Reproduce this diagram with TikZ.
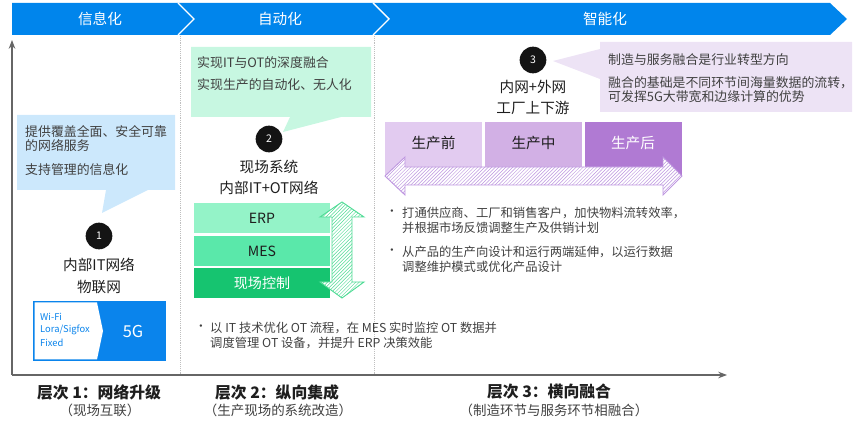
\documentclass[tikz,border=0pt]{standalone}
\usepackage{fontspec}
\setmainfont{Noto Sans CJK SC}
\usetikzlibrary{arrows.meta,patterns}
\definecolor{bannerblue}{RGB}{0,133,236}
\definecolor{textgray}{RGB}{64,64,64}
\definecolor{textdark}{RGB}{30,30,30}
\definecolor{callblue}{RGB}{204,232,252}
\definecolor{callgreen}{RGB}{199,247,225}
\definecolor{callpurple}{RGB}{237,227,245}
\definecolor{erpgreen}{RGB}{148,243,200}
\definecolor{mesgreen}{RGB}{90,232,170}
\definecolor{ctrlgreen}{RGB}{22,196,112}
\definecolor{hatchgreen}{RGB}{80,220,150}
\definecolor{prepurple}{RGB}{226,203,240}
\definecolor{midpurple}{RGB}{210,176,229}
\definecolor{postpurple}{RGB}{176,122,211}
\definecolor{hatchpurple}{RGB}{190,150,224}
\definecolor{fivegblue}{RGB}{10,132,236}
\newcommand{\fs}[1]{\fontsize{#1}{#1}\selectfont}

\begin{document}
\begin{tikzpicture}[x=0.03cm, y=-0.03cm, >=Stealth,
  bantxt/.style={text=white,font=\fs{12.5}},
  calltxt/.style={anchor=west,inner sep=0pt,text=textgray,font=\fs{11}},
  head/.style={inner sep=0pt,text=textdark,font=\fs{12.5}},
  num/.style={circle,fill=black!92,text=white,minimum size=0.8cm,inner sep=0pt,font=\fs{9}},
  layer/.style={minimum width=4.08cm,minimum height=0.9cm,inner sep=0pt,font=\fs{12}},
  phase/.style={minimum width=2.91cm,minimum height=1.65cm,inner sep=0pt},
  bultxt/.style={anchor=west,inner sep=0pt,align=left,text=textgray,font=\fontsize{10.5}{12.8}\selectfont},
  level/.style={inner sep=0pt,text=textdark,font=\bfseries\fs{13.5}},
  sublevel/.style={inner sep=0pt,text=textgray,font=\fs{11.5}},
  axis/.style={line width=1pt,draw=black!60},
  divider/.style={draw=black!25,densely dotted,line width=0.6pt}]
\useasboundingbox (0,0) rectangle (860,427);

\fill[bannerblue] (12,3) -- (830,3) -- (847,19) -- (830,35) -- (12,35) -- cycle;
\draw[white,line width=1.2pt] (178,3) -- (194,19) -- (178,35);
\draw[white,line width=1.2pt] (373,3) -- (389,19) -- (373,35);
\node[bantxt] (ban1) at (100,19) {信息化};
\node[bantxt] (ban2) at (280,19) {自动化};
\node[bantxt] (ban3) at (605,19) {智能化};

\coordinate (o) at (12,375);
\coordinate (ytop) at (12,40);
\coordinate (xend) at (727,375);
\draw[divider] (180,36) -- (180,375);
\draw[divider] (374,36) -- (374,375);
\draw[axis,->] (o) -- (ytop);
\draw[axis,->] (o) -- (xend);

\fill[callblue] (17,115) -- (175,115) -- (175,190) -- (148,190) -- (102,213) -- (106,190) -- (17,190) -- cycle;
\node[calltxt] (c1a) at (25,132) {提供覆盖全面、安全可靠};
\node[calltxt] (c1b) at (25,146) {的网络服务};
\node[calltxt] (c1c) at (25,170) {支持管理的信息化};
\node[num] (n1) at (99,236) {1};
\node[head] (h1a) at (99,265) {内部IT网络};
\node[head] (h1b) at (99,287) {物联网};
\fill[fivegblue] (33,301) rectangle (166,361);
\fill[white] (34.5,302.5) -- (97,302.5) -- (103,331) -- (97,359.5) -- (34.5,359.5) -- cycle;
\node[anchor=west,inner sep=0pt,text=fivegblue,font=\fs{8}] (wifi) at (40,317) {Wi-Fi};
\node[anchor=west,inner sep=0pt,text=fivegblue,font=\fs{8}] (lora) at (40,330) {Lora/Sigfox};
\node[anchor=west,inner sep=0pt,text=fivegblue,font=\fs{8}] (fixed) at (40,343) {Fixed};
\node[text=white,inner sep=0pt,font=\fs{14}] (fiveg) at (133,331) {5G};

\fill[callgreen] (191,47) -- (371,47) -- (371,117) -- (341,117) -- (283,132) -- (290,117) -- (191,117) -- cycle;
\node[calltxt] (c2a) at (197,63) {实现IT与OT的深度融合};
\node[calltxt] (c2b) at (197,85) {实现生产的自动化、无人化};
\node[num] (n2) at (269,139) {2};
\node[head] (h2a) at (269,167) {现场系统};
\node[head] (h2b) at (269,188) {内部IT+OT网络};
\node[layer,fill=erpgreen,text=textdark] (erp) at (262,218) {ERP};
\node[layer,fill=mesgreen,text=textdark] (mes) at (262,251) {MES};
\node[layer,fill=ctrlgreen,text=white] (ctrl) at (262,283) {现场控制};
\draw[hatchgreen,line width=0.8pt,preaction={fill=white},pattern=north east lines,pattern color=hatchgreen]
  (342,202) -- (364,217) -- (352,217) -- (352,282) -- (364,282) -- (342,298) -- (320,282) -- (332,282) -- (332,217) -- (320,217) -- cycle;
\node (bul2) at (201,328) [inner sep=0pt,text=textgray,font=\fs{10}] {•};
\node[bultxt] (b2) at (210,335.5) {以 IT 技术优化 OT 流程，在 MES 实时监控 OT 数据并\\调度管理 OT 设备，并提升 ERP 决策效能};

\fill[callpurple] (600,42) -- (852,42) -- (852,112) -- (600,112) -- (600,79) -- (553,61) -- (600,49) -- cycle;
\node[calltxt] (c3a) at (608,60) {制造与服务融合是行业转型方向};
\node[calltxt] (c3b) at (608,83) {融合的基础是不同环节间海量数据的流转，};
\node[calltxt] (c3c) at (608,97) {可发挥5G大带宽和边缘计算的优势};
\node[num] (n3) at (533,60) {3};
\node[head] (h3a) at (533,87) {内网+外网};
\node[head] (h3b) at (533,108) {工厂上下游};
\node[phase,fill=prepurple] (pre) at (433.5,149.5) {};
\node[phase,fill=midpurple] (mid) at (533.5,149.5) {};
\node[phase,fill=postpurple] (post) at (633,149.5) {};
\node[head,font=\fs{12.5}] (pretxt) at (433.5,143) {生产前};
\node[head,font=\fs{12.5}] (midtxt) at (533.5,143) {生产中};
\node[head,text=white,font=\fs{12.5}] (posttxt) at (633,143) {生产后};
\draw[hatchpurple,line width=0.8pt,preaction={fill=white},pattern=north east lines,pattern color=hatchpurple]
  (385,176) -- (405,157) -- (405,167) -- (663,167) -- (663,157) -- (682,176) -- (663,195) -- (663,185) -- (405,185) -- (405,195) -- cycle;
\node (bul3a) at (392,213) [inner sep=0pt,text=textgray,font=\fs{10}] {•};
\node[bultxt] (b3a) at (402,220.5) {打通供应商、工厂和销售客户，加快物料流转效率，\\并根据市场反馈调整生产及供销计划};
\node (bul3b) at (392,252) [inner sep=0pt,text=textgray,font=\fs{10}] {•};
\node[bultxt] (b3b) at (402,259.5) {从产品的生产向设计和运行两端延伸，以运行数据\\调整维护模式或优化产品设计};

\node[level] (l1) at (99,392) {层次 1：网络升级};
\node[sublevel] (s1) at (100,410) {（现场互联）};
\node[level] (l2) at (277,392) {层次 2：纵向集成};
\node[sublevel] (s2) at (278,410) {（生产现场的系统改造）};
\node[level] (l3) at (549,392) {层次 3：横向融合};
\node[sublevel] (s3) at (554,410) {（制造环节与服务环节相融合）};
\end{tikzpicture}
\end{document}
